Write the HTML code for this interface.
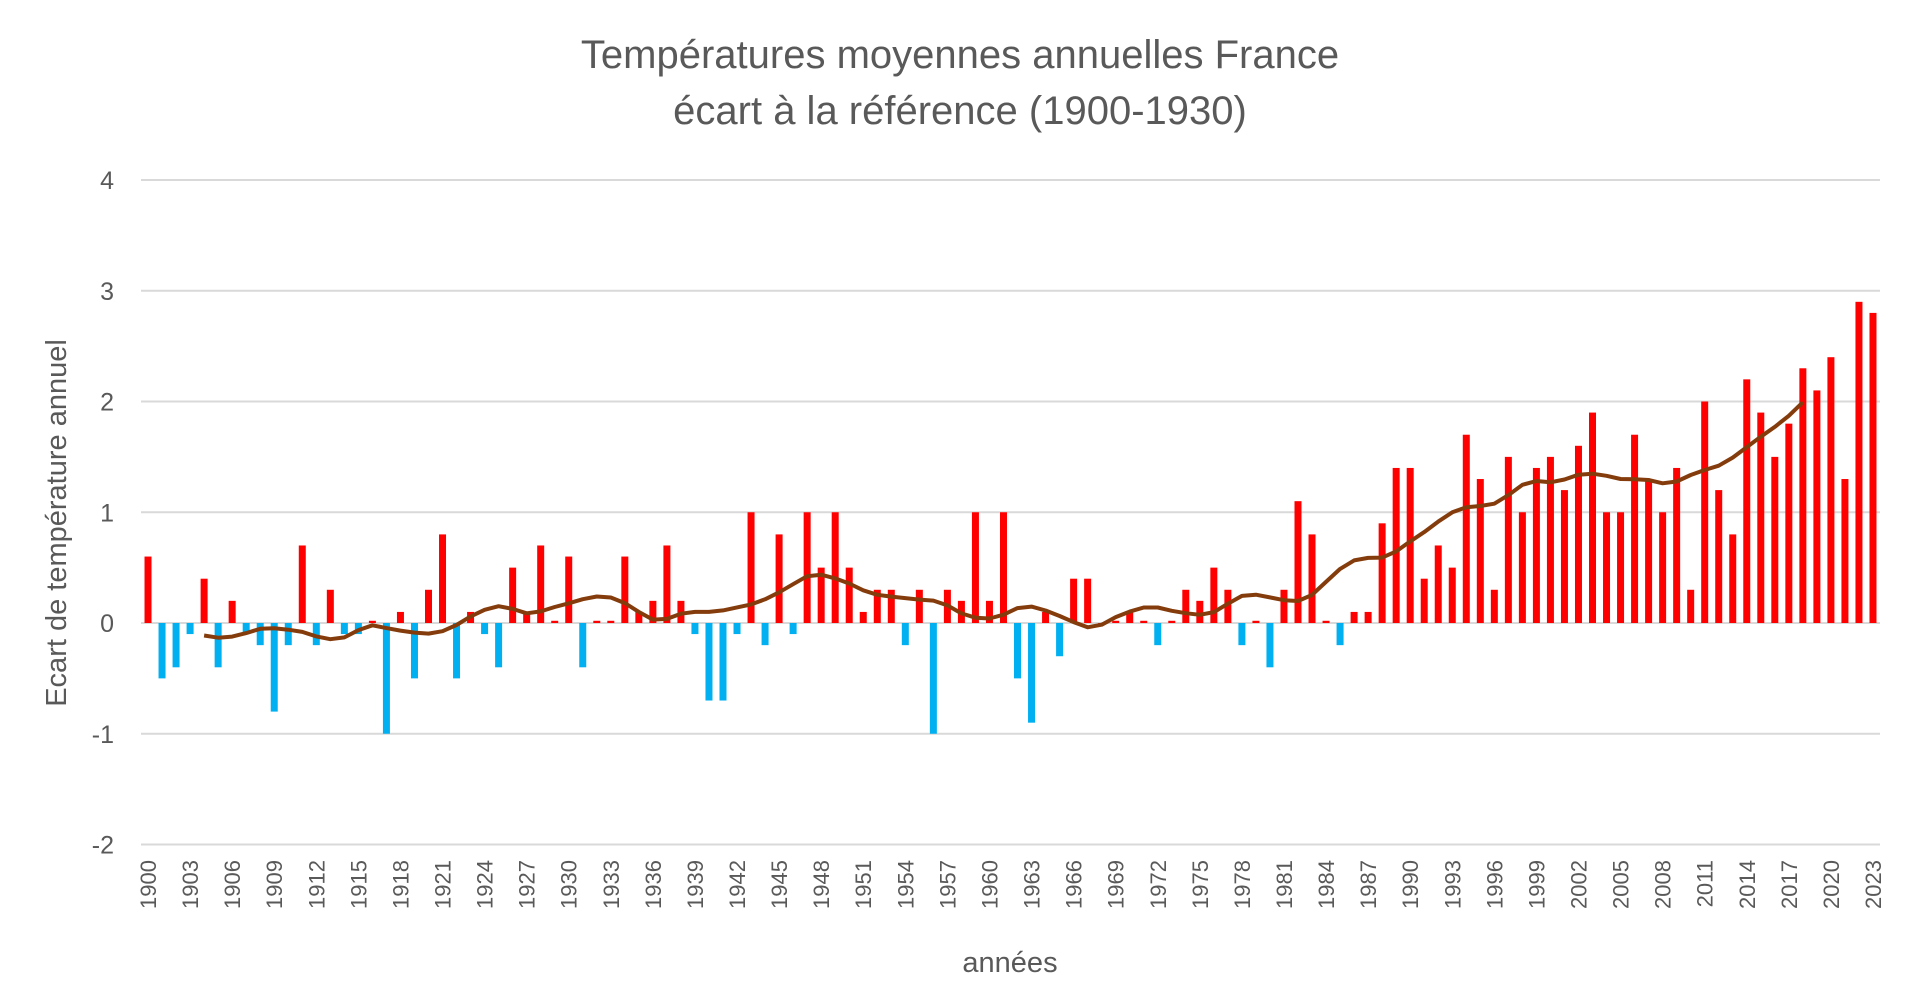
<!DOCTYPE html>
<html><head><meta charset="utf-8"><style>
html,body{margin:0;padding:0;background:#fff;}
svg{display:block;font-family:"Liberation Sans",sans-serif;}
</style></head><body>
<svg id="c" width="1920" height="984" viewBox="0 0 1920 984" xmlns="http://www.w3.org/2000/svg">
<text x="960" y="68" text-anchor="middle" font-size="40" fill="#595959">Températures moyennes annuelles France</text>
<text x="960" y="124" text-anchor="middle" font-size="40" fill="#595959">écart à la référence (1900-1930)</text>
<text transform="translate(66,523) rotate(-90)" text-anchor="middle" font-size="29" fill="#595959">Ecart de température annuel</text>
<text x="1010" y="972" text-anchor="middle" font-size="29" fill="#595959">années</text>
<g id="g"></g>
</svg>
<script>
var v=[0.6,-0.5,-0.4,-0.1,0.4,-0.4,0.2,-0.1,-0.2,-0.8,-0.2,0.7,-0.2,0.3,-0.1,-0.1,0.02,-1.0,0.1,-0.5,
0.3,0.8,-0.5,0.1,-0.1,-0.4,0.5,0.1,0.7,0.02,0.6,-0.4,0.02,0.02,0.6,0.1,0.2,0.7,0.2,-0.1,
-0.7,-0.7,-0.1,1.0,-0.2,0.8,-0.1,1.0,0.5,1.0,0.5,0.1,0.3,0.3,-0.2,0.3,-1.0,0.3,0.2,1.0,
0.2,1.0,-0.5,-0.9,0.1,-0.3,0.4,0.4,0.0,0.02,0.1,0.02,-0.2,0.02,
0.3,0.2,0.5,0.3,-0.2,0.02,-0.4,0.3,1.1,0.8,0.02,-0.2,0.1,0.1,0.9,1.4,1.4,0.4,0.7,0.5,1.7,1.3,0.3,1.5,1.0,1.4,1.5,1.2,1.6,1.9,1.0,1.0,1.7,1.3,1.0,1.4,0.3,2.0,1.2,0.8,2.2,1.9,1.5,1.8,2.3,2.1,2.4,1.3,2.9,2.8];
var NS="http://www.w3.org/2000/svg",g=document.getElementById('g');
function el(t,a,txt){var e=document.createElementNS(NS,t);for(var k in a)e.setAttribute(k,a[k]);if(txt!=null)e.textContent=txt;g.appendChild(e);return e;}
var L=141,R=1880,st=(R-L)/124;
function Y(val){return 623-val*110.75;}
for(var t=-2;t<=4;t++){
 el('line',{x1:L,x2:R,y1:Y(t),y2:Y(t),stroke:'#d9d9d9','stroke-width':2});
 el('text',{x:114,y:Y(t)+9,'text-anchor':'end','font-size':25,fill:'#595959'},String(t));
}
for(var i=0;i<v.length;i++){
 var cx=L+(i+0.5)*st,y0=Y(0),y1=Y(v[i]);
 el('rect',{x:cx-3.5,y:Math.min(y0,y1),width:7,height:Math.max(1,Math.abs(y1-y0)),fill:v[i]>=0?'#ff0000':'#00b0f0'});
 if(i%3==0||i==123){
  el('text',{transform:'translate('+(cx+8)+',860) rotate(-90)','text-anchor':'end','font-size':22,fill:'#595959'},String(1900+i));
 }
}
var m=[];
for(var i=0;i<v.length;i++){var s=0,n=0;for(var j=i-5;j<=i+5;j++){if(j>=0&&j<v.length){s+=v[j];n++;}}m.push(s/n);}
var m2=[];for(var i=0;i<m.length;i++){var a=m[Math.max(0,i-1)],b=m[i],c=m[Math.min(m.length-1,i+1)];m2.push((a+2*b+c)/4);}
var pts=[];
for(var i=4;i<=118;i++){pts.push((L+(i+0.5)*st).toFixed(1)+','+Y(m2[i]).toFixed(1));}
el('polyline',{points:pts.join(' '),fill:'none',stroke:'#843c0c','stroke-width':4,'stroke-linejoin':'round'});
</script>
</body></html>
